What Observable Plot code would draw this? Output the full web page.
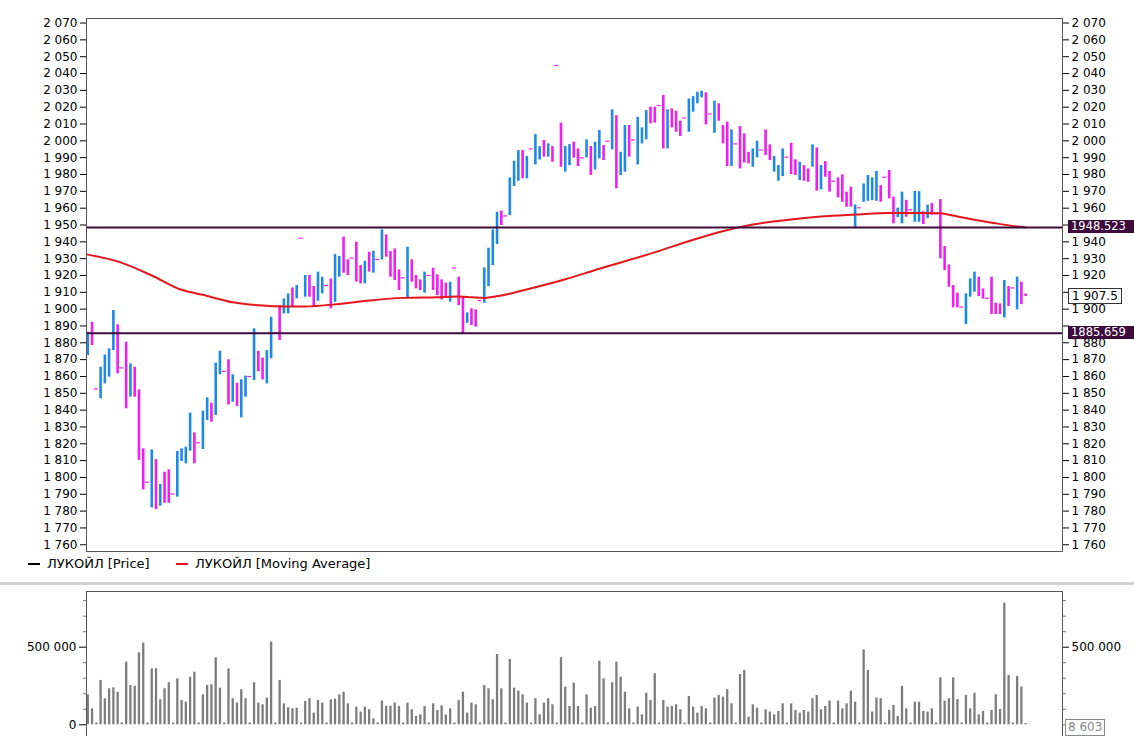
<!DOCTYPE html>
<html>
<head>
<meta charset="utf-8">
<script src="https://cdn.jsdelivr.net/npm/d3@7"></script>
<script src="https://cdn.jsdelivr.net/npm/@observablehq/plot@0.6"></script>
<style>
  html, body { margin: 0; padding: 0; background: #fff; }
  #page { position: relative; width: 1134px; height: 736px; overflow: hidden; background: #fff; font-family: "DejaVu Sans", sans-serif; }
  #price { position: absolute; left: 0; top: 0; }
  #vol { position: absolute; left: 0; top: 585px; }
  #legend { position: absolute; left: 0; top: 555px; height: 18px; line-height: 18px; font-size: 13px; color: #000; white-space: nowrap; }
  #legend .item { position: absolute; top: 0; }
  #legend .sw { position: absolute; top: 8px; width: 12px; height: 2px; }
  #sep { position: absolute; left: 0; top: 582px; width: 1134px; height: 3px; background: #d2d2d2; }
  .tag { position: absolute; height: 13px; line-height: 13px; font-size: 11.5px; white-space: nowrap; overflow: hidden; box-sizing: border-box; }
</style>
</head>
<body>
<div id="page">
  <div id="price"></div>
  <div id="legend"></div>
  <div id="sep"></div>
  <div id="vol"></div>
</div>
<script>
// ---------- data ----------
const legendLabels = ["ЛУКОЙЛ [Price]", "ЛУКОЙЛ [Moving Average]"];

const opens = [
1872.4,1892.2,1852.6,1846.7,1855.6,1859.6,1875.4,1890.7,1865.1,1880.4,
1847.7,1865.5,1852.0,1817.0,1797.2,1781.9,1810.6,1782.9,1803.1,1804.5,
1790.2,1788.3,1809.5,1808.1,1815.6,1826.5,1820.6,1816.6,1833.8,1844.1,
1836.8,1861.0,1863.0,1869.9,1844.7,1856.0,1835.4,1847.7,1860.0,1857.6,
1875.0,1870.9,1855.6,1870.5,1886.0,1902.1,1897.2,1897.2,1912.6,1906.1,
1942.2,1907.1,1920.0,1913.4,1904.7,1909.1,1914.0,1918.0,1904.1,1919.0,
1942.8,1929.3,1930.3,1939.8,1925.9,1915.0,1933.8,1921.4,1929.5,1929.3,
1944.1,1934.2,1935.8,1923.3,1918.6,1906.7,1929.3,1920.0,1917.4,1909.5,
1920.0,1924.3,1920.4,1917.4,1915.4,1904.1,1924.5,1919.0,1907.1,1891.6,
1900.2,1899.6,1905.1,1903.5,1913.4,1925.9,1938.4,1958.2,1955.4,1955.6,
1972.9,1976.0,1994.2,1977.4,1995.2,1985.7,1988.7,2000.2,1990.3,1996.6,
2044.8,2010.5,1981.4,1985.3,1999.2,1995.2,1989.9,1989.9,1996.6,1982.7,
1989.3,1997.2,1999.8,1994.6,2015.0,1979.4,1981.4,2009.1,2000.6,1985.7,
1998.2,2000.6,2020.0,2020.0,2021.0,2026.9,1995.2,2019.0,2017.6,2011.7,
2013.6,2005.1,2017.0,2022.0,2025.5,2028.5,2016.0,2004.5,2022.0,2009.1,
2011.1,1984.7,1998.2,2008.5,2004.1,1993.2,1984.3,1989.9,1994.6,2006.5,
1997.6,1981.4,1976.0,1978.8,1990.3,1998.6,1988.7,1976.4,1985.3,1983.3,
1984.3,1995.8,1970.9,1987.7,1981.8,1976.0,1978.0,1979.8,1969.5,1972.5,
1948.3,1960.2,1963.5,1964.1,1964.5,1964.1,1973.4,1978.4,1982.4,1966.5,
1954.4,1950.7,1964.7,1959.0,1951.6,1951.6,1957.9,1953.8,1962.8,1956.6,
1965.1,1937.2,1926.3,1914.0,1909.5,1901.2,1890.9,1907.1,1910.1,1919.0,
1912.0,1906.5,1919.0,1903.5,1903.1,1894.8,1913.4,1912.6,1899.6,1916.0,
1909.0];

const closes = [
1886.3,1878.4,1852.6,1865.5,1872.8,1876.4,1899.2,1861.6,1865.1,1840.8,
1867.5,1847.7,1810.1,1792.6,1797.2,1816.4,1780.9,1795.8,1784.7,1784.7,
1790.2,1815.4,1817.0,1818.0,1838.2,1808.1,1820.6,1839.4,1847.3,1832.8,
1867.9,1875.0,1863.0,1843.1,1861.0,1842.1,1858.0,1860.2,1860.0,1888.3,
1862.9,1858.0,1875.4,1895.2,1886.0,1881.4,1906.1,1909.1,1901.6,1914.0,
1942.2,1920.0,1907.1,1901.6,1922.0,1919.0,1914.0,1900.2,1932.4,1931.3,
1921.4,1920.0,1930.3,1916.0,1915.0,1928.5,1922.0,1934.4,1929.5,1947.1,
1930.9,1919.0,1917.0,1911.1,1918.6,1936.8,1916.0,1912.1,1911.1,1922.0,
1920.0,1911.1,1908.1,1905.5,1907.1,1916.0,1924.5,1902.1,1885.3,1897.8,
1890.3,1889.3,1905.1,1924.5,1936.2,1947.1,1957.6,1949.7,1955.4,1978.0,
1987.9,1994.2,1977.4,1990.7,1995.2,2003.7,1996.6,1990.3,1998.2,1987.3,
2044.8,1984.3,1996.6,1997.8,1989.7,1984.7,1989.9,2000.6,1979.4,1999.2,
2006.1,1988.3,1999.8,2018.4,1971.5,1993.2,2009.1,1990.3,2000.6,2014.0,
2007.7,2018.0,2010.1,2010.5,2021.0,1995.2,2018.4,2007.7,2005.1,2002.6,
2013.6,2024.9,2026.3,2028.9,2029.5,2009.5,2016.0,2023.6,2011.7,1998.2,
1984.7,2006.5,1998.2,1983.3,1986.9,1986.3,1995.2,1999.8,1994.6,1991.3,
1988.3,1990.7,1985.3,1995.2,1990.3,1980.0,1979.4,1987.3,1976.0,1975.4,
1997.6,1970.1,1985.3,1978.4,1969.5,1976.0,1966.1,1963.5,1960.6,1960.6,
1961.9,1960.2,1974.4,1979.4,1978.0,1981.8,1963.5,1978.4,1965.5,1950.7,
1960.0,1969.5,1954.6,1959.0,1970.0,1969.8,1950.3,1961.8,1955.8,1956.6,
1929.9,1922.9,1913.0,1900.8,1900.8,1901.2,1909.1,1918.0,1922.0,1907.5,
1906.0,1906.5,1896.8,1896.8,1896.8,1917.0,1901.6,1912.6,1919.0,1902.7,
1907.5];

const volumes = [
193000,103000,12000,286000,168000,232000,238000,210000,12000,404000,
253000,249000,464000,526000,12000,361000,361000,161000,232000,271000,
12000,296000,157000,146000,307000,339000,12000,193000,253000,258000,
432000,236000,12000,361000,168000,140000,226000,168000,12000,271000,
140000,129000,172000,533000,12000,286000,135000,110000,103000,107000,
12000,150000,168000,75000,157000,140000,12000,161000,165000,193000,
210000,135000,12000,114000,82000,114000,97000,39000,12000,153000,
120000,120000,140000,118000,12000,140000,97000,54000,64000,118000,
12000,135000,92000,122000,64000,103000,12000,157000,210000,75000,
140000,129000,12000,253000,232000,161000,453000,232000,12000,421000,
236000,217000,193000,140000,12000,168000,64000,140000,168000,129000,
12000,432000,243000,118000,268000,118000,12000,193000,107000,118000,
410000,296000,12000,271000,404000,307000,210000,103000,12000,114000,
64000,204000,157000,329000,12000,157000,114000,118000,129000,97000,
12000,183000,114000,75000,118000,103000,12000,172000,189000,178000,
226000,135000,12000,324000,350000,49000,129000,107000,12000,97000,
82000,64000,86000,135000,12000,135000,92000,75000,92000,82000,
168000,189000,97000,118000,153000,12000,153000,103000,135000,217000,
146000,12000,483000,350000,82000,172000,168000,12000,92000,125000,
54000,247000,103000,12000,146000,146000,86000,82000,103000,12000,
303000,153000,168000,303000,163000,12000,189000,103000,204000,64000,
86000,12000,92000,193000,99000,784000,318000,12000,311000,243000,
8603];

// moving average read at sample bars
const maIndex = [0, 8, 15, 22, 27, 34, 41, 46, 51, 59, 66, 74, 82, 87, 90, 93, 97, 102, 111, 120, 132, 143, 148, 156, 164, 172, 180, 188, 195, 200, 203, 207, 213, 218, 220];
const maValues = [1932.4, 1927.5, 1920, 1911.5, 1908.5, 1904.1, 1902.1, 1901.6, 1901.6, 1903.1, 1905.1, 1906.7, 1907.1, 1907.5, 1907.1, 1906.7, 1908.1, 1911.1, 1917, 1924, 1933, 1942, 1945.7, 1950.3, 1953, 1955, 1956.2, 1957.2, 1957.2, 1957, 1955.6, 1953.6, 1951, 1949.1, 1948.5];

const levels = [1948.523, 1885.659];
const levelLabels = ["1948.523", "1885.659"];
const lastPrice = 1907.5;
const lastPriceLabel = "1 907.5";
const lastVolumeLabel = "8 603";

const priceTicks = d3.range(1760, 2071, 10);
const rightHiddenTicks = [1950, 1910, 1890]; // covered by the value tags on the right
const volMajorTicks = [0, 500000];
const volMinorTicks = [100000, 200000, 300000, 400000, 600000, 700000, 800000];

// ---------- styling ----------
const BLUE = "#1f8ae6";
const MAGENTA = "#f01ef0";
const MA_RED = "#e3161c";
const LEVEL = "#3c0b3c";
const fmt = d => d3.format(",")(d).replace(/,/g, " ");

const bars = opens.map((o, i) => ({i, o, c: closes[i]}));
const bodies = bars.filter(d => d.o !== d.c);
const dashes = bars.filter(d => d.o === d.c);
const ma = maIndex.map((i, k) => ({i, v: maValues[k]}));
const vol = volumes.map((v, i) => ({i, v}));

const xDomain = [-0.305, 228.65];
const common = {
  width: 1134,
  marginLeft: 86,
  marginRight: 72,
  style: {fontFamily: "DejaVu Sans, sans-serif", fontSize: "12px", color: "#000", background: "transparent", overflow: "visible"}
};

const price = Plot.plot({
  ...common,
  height: 556,
  marginTop: 18,
  marginBottom: 5,
  x: {domain: xDomain, axis: null},
  y: {domain: [1756.0, 2072.7], axis: null, label: null},
  marks: [
    Plot.ruleX(bodies, {x: "i", y1: "o", y2: "c", stroke: d => d.c > d.o ? BLUE : MAGENTA, strokeWidth: 2.6}),
    Plot.ruleY(dashes, {x1: d => d.i - 0.45, x2: d => d.i + 0.45, y: "o", stroke: MAGENTA, strokeWidth: 1.2}),
    Plot.line(ma, {x: "i", y: "v", stroke: MA_RED, strokeWidth: 2, curve: "monotone-x"}),
    Plot.ruleY(levels, {stroke: LEVEL, strokeWidth: 2}),
    Plot.frame({stroke: "#555"}),
    Plot.axisY(priceTicks, {anchor: "left", tickFormat: fmt, tickSize: 6, tickPadding: 3, label: null}),
    Plot.axisY(priceTicks, {anchor: "right", tickFormat: d => rightHiddenTicks.includes(d) ? "" : fmt(d), tickSize: 6, tickPadding: 3, label: null})
  ]
});
document.getElementById("price").appendChild(price);

const volChart = Plot.plot({
  ...common,
  height: 153,
  marginTop: 6,
  marginBottom: 0,
  x: {domain: xDomain, axis: null},
  y: {domain: [-88300, 858900], axis: null, label: null},
  marks: [
    Plot.ruleX(vol, {x: "i", y1: 0, y2: "v", stroke: "#7d7d7d", strokeWidth: 2.3}),
    Plot.frame({stroke: "#555"}),
    Plot.axisY(volMajorTicks, {anchor: "left", tickFormat: fmt, tickSize: 7, tickPadding: 3, label: null}),
    Plot.axisY(volMinorTicks, {anchor: "left", tickFormat: () => "", tickSize: 3, stroke: "#777", label: null}),
    Plot.axisY([500000], {anchor: "right", tickFormat: fmt, tickSize: 6, tickPadding: 3, label: null}),
    Plot.axisY([0, ...volMinorTicks], {anchor: "right", tickFormat: () => "", tickSize: 3, stroke: "#777", label: null})
  ]
});
document.getElementById("vol").appendChild(volChart);

// ---------- legend ----------
const legend = document.getElementById("legend");
const legendItems = [
  {label: legendLabels[0], color: "#000", sw: 28, tx: 47},
  {label: legendLabels[1], color: MA_RED, sw: 176, tx: 195}
];
for (const it of legendItems) {
  const s = document.createElement("div");
  s.className = "sw"; s.style.left = it.sw + "px"; s.style.background = it.color;
  legend.appendChild(s);
  const t = document.createElement("div");
  t.className = "item"; t.style.left = it.tx + "px"; t.textContent = it.label;
  legend.appendChild(t);
}

// ---------- right-side value tags ----------
const page = document.getElementById("page");
const yP = price.scale("y");
function tag(text, top, left, css) {
  const d = document.createElement("div");
  d.className = "tag";
  d.textContent = text;
  d.style.top = top + "px";
  d.style.left = left + "px";
  Object.assign(d.style, css);
  page.appendChild(d);
}
levels.forEach((v, k) => {
  tag(levelLabels[k], Math.round(yP.apply(v) - 6.5), 1068, {background: LEVEL, color: "#fff", paddingLeft: "3px", width: "66px"});
});
tag(lastPriceLabel, yP.apply(lastPrice) - 8, 1068, {background: "#fff", color: "#000", border: "1px solid #333", height: "16px", lineHeight: "14px", fontSize: "12px", padding: "0 3px"});
tag(lastVolumeLabel, 719, 1065, {background: "#fff", color: "#888", border: "1px solid #888", height: "17px", lineHeight: "15px", fontSize: "12px", padding: "0 2px"});
</script>
</body>
</html>
